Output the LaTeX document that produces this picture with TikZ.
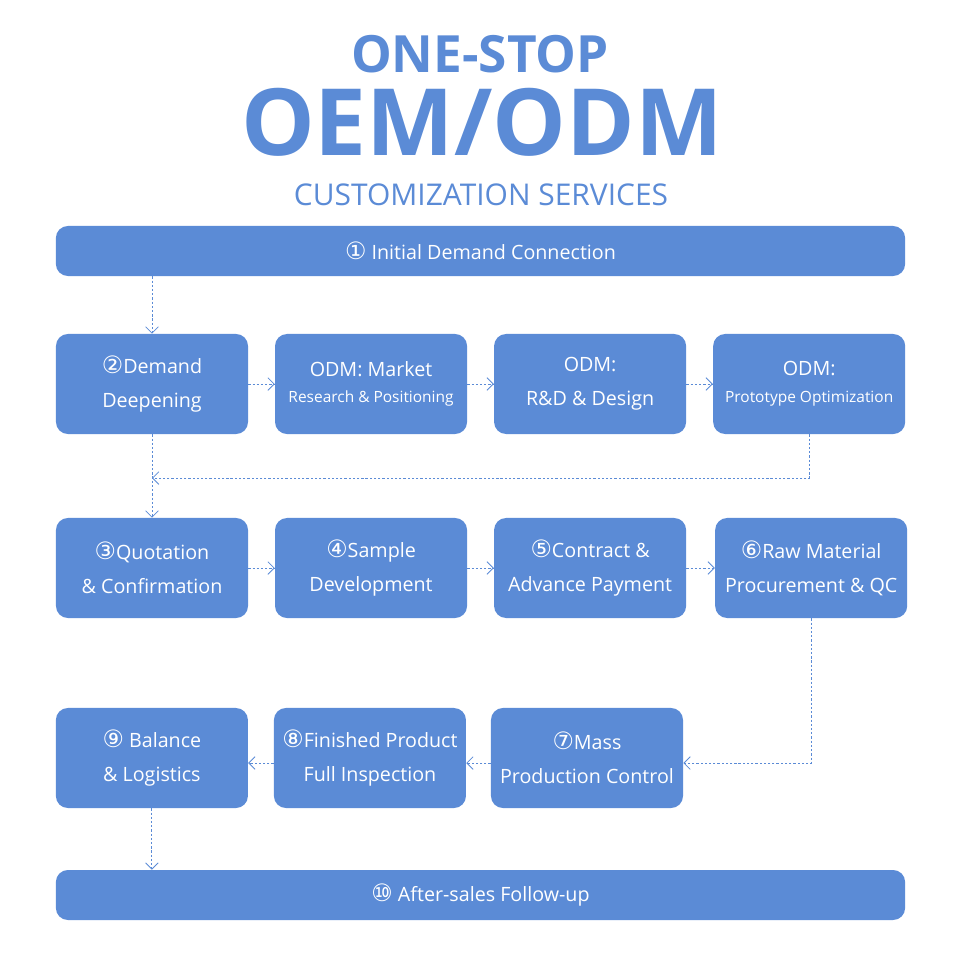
\documentclass[tikz,border=0pt]{standalone}
\usepackage{fontspec}
\setmainfont{Open Sans}
\newfontfamily\circfont{DejaVu Sans}
\usetikzlibrary{positioning, arrows.meta}
\definecolor{oemblue}{HTML}{5B8BD6}
\newcommand{\cnum}[1]{{\circfont\fontsize{17}{17}\selectfont #1}}

\begin{document}
\begin{tikzpicture}[x=0.025cm, y=-0.025cm, node distance=5.475cm, on grid,
    stepbox/.style={fill=oemblue, rounded corners=0.3cm, minimum width=4.8cm, minimum height=2.5cm,
        inner sep=0pt, align=center, text=white, font=\fontsize{14}{24}\selectfont},
    widebox/.style={stepbox, minimum width=21.225cm, minimum height=1.25cm},
    flow/.style={draw=oemblue, line width=0.6pt, dash pattern=on 1.6pt off 1.4pt,
        -{Straight Barb[length=4.5pt, width=9pt, line width=0.6pt]}},
    title/.style={text=oemblue, anchor=base, inner sep=0pt}]
    \useasboundingbox (0,0) rectangle (960,960);

    % heading
    \node[title, font=\fontsize{36.5}{36}\bfseries] (top)  at (480,72)  {ONE-STOP};
    \node[title, font=\fontsize{66}{66}\bfseries] (oem)  at (482,155) {OEM/ODM};
    \node[title, font=\fontsize{21.3}{21}\selectfont] (cust) at (481,205) {CUSTOMIZATION SERVICES};

    % first and last steps
    \node[widebox] (s1)  at (480.5,251) {\cnum{①} Initial Demand Connection};
    \node[widebox] (s10) at (480.5,895) {\cnum{⑩} After-sales Follow-up};

    % row with ODM steps
    \node[stepbox] (s2)  at (152,384)     {\cnum{②}Demand\\Deepening};
    \node[stepbox] (mkt) [right=of s2]  {ODM: Market\\[-5pt]{\fontsize{11}{14}\selectfont Research \& Positioning}};
    \node[stepbox] (rnd) [right=of mkt] {ODM:\\R\&D \& Design};
    \node[stepbox] (pro) [right=of rnd] {ODM:\\[-5pt]{\fontsize{11}{14}\selectfont Prototype Optimization}};

    % row 3
    \node[stepbox] (s3) at (152,568)   {\cnum{③}Quotation\\\& Confirmation};
    \node[stepbox] (s4) [right=of s3]  {\cnum{④}Sample\\Development};
    \node[stepbox] (s5) [right=of s4]  {\cnum{⑤}Contract \&\\Advance Payment};
    \node[stepbox] (s6) [right=5.525cm of s5] {\cnum{⑥}Raw Material\\Procurement \& QC};

    % row 4 (right to left)
    \node[stepbox] (s7) at (587,758)    {\cnum{⑦}Mass\\Production Control};
    \node[stepbox] (s8) [left=5.425cm of s7] {\cnum{⑧}Finished Product\\Full Inspection};
    \node[stepbox] (s9) [left=5.45cm of s8]  {\cnum{⑨} Balance\\\& Logistics};

    \coordinate (b1) at (pro.south |- 0,478);
    \coordinate (b2) at (s6.south |- 0,763);

    \draw[flow] (s1.south -| s2) -- (s2.north);
    \draw[flow] (s2) -- (mkt);
    \draw[flow] (mkt) -- (rnd);
    \draw[flow] (rnd) -- (pro);
    \draw[flow] (s2.south) -- (s3.north);
    \draw[flow] (pro.south) -- (b1) -- (b1 -| s2.south);
    \draw[flow] (s3) -- (s4);
    \draw[flow] (s4) -- (s5);
    \draw[flow] (s5) -- (s6);
    \draw[flow] (s6.south) -- (b2) -- (b2 -| s7.east);
    \draw[flow] (s7.west |- b2) -- (s8.east |- b2);
    \draw[flow] (s8.west |- b2) -- (s9.east |- b2);
    \draw[flow] (s9.south) -- (s10.north -| s9);
\end{tikzpicture}
\end{document}
